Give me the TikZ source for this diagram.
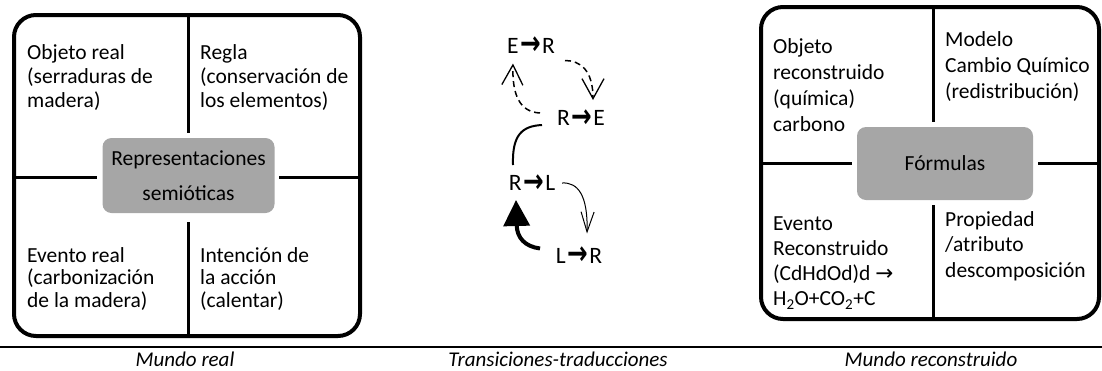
\documentclass[tikz,border=0pt]{standalone}
\usepackage{fontspec}
\setmainfont{Carlito}
\newfontfamily\arrowfont{DejaVu Sans}
\usetikzlibrary{arrows.meta,calc}
\definecolor{boxgray}{RGB}{166,166,166}
\newcommand\celltxt[2]{{\fontsize{21.5}{#1}\selectfont\begin{tabular}[t]{@{}l@{}}#2\end{tabular}}}
\newcommand\tarrow{\raisebox{-1.5pt}{\scalebox{1.05}[1.4]{\arrowfont\bfseries →}}}
\begin{document}
\begin{tikzpicture}[x=1pt,y=-1pt,
  boxframe/.style={line width=4pt, rounded corners=22pt},
  divider/.style={line width=3pt},
  hubbox/.style={fill=boxgray, rounded corners=9pt, inner sep=0pt, font=\fontsize{21.5}{35}\selectfont},
  cellnode/.style={anchor=base west, inner sep=0pt},
  transnode/.style={inner sep=0pt, text height=15pt, text depth=0pt, font=\fontsize{23.5}{28}\selectfont},
  capnode/.style={anchor=base, inner sep=0pt, font=\fontsize{21}{25}\selectfont\itshape},
  dlink/.style={line width=1.5pt, dash pattern=on 6pt off 4pt},
]
\useasboundingbox (0,0) rectangle (1102,370);

% ---------- left box: Mundo real ----------
\draw[boxframe] (14,15) rectangle (360,336);
\draw[divider] (188,15) -- (188,133);
\draw[divider] (188,222) -- (188,336);
\draw[divider] (14,177) -- (97,177);
\draw[divider] (279,177) -- (360,177);
\node[hubbox, minimum width=172pt, minimum height=75pt] (lhub) at (188.5,175.5)
  {\begin{tabular}{@{}c@{}}Representaciones\\semióticas\end{tabular}};
\node[cellnode] (lobj) at (27,59) {\celltxt{24}{Objeto real\\(serraduras de\\madera)}};
\node[cellnode] (lreg) at (200,59) {\celltxt{24}{Regla\\(conservación de\\los elementos)}};
\node[cellnode] (lev) at (27,262) {\celltxt{22.5}{Evento real\\(carbonización\\de la madera)}};
\node[cellnode] (lint) at (200,262) {\celltxt{22.5}{Intención de\\la acción\\(calentar)}};

% ---------- right box: Mundo reconstruido ----------
\draw[boxframe] (761,7) rectangle (1099,319);
\draw[divider] (933,7) -- (933,122);
\draw[divider] (933,205) -- (933,319);
\draw[divider] (761,163) -- (852,163);
\draw[divider] (1038,163) -- (1099,163);
\node[hubbox, minimum width=176pt, minimum height=73pt, text height=13.8pt, text depth=0pt] (rhub) at (945,163.5) {Fórmulas};
\node[cellnode] (robj) at (773,53.3) {\celltxt{26}{Objeto\\reconstruido\\(química)\\carbono}};
\node[cellnode] (rmod) at (945,46.7) {\celltxt{26}{Modelo\\Cambio Químico\\(redistribución)}};
\node[cellnode] (rev) at (773,230) {\celltxt{25.3}{Evento\\Reconstruido\\(CdHdOd)d {\arrowfont →}\\H\textsubscript{2}O+CO\textsubscript{2}+C}};
\node[cellnode] (rprop) at (945,226) {\celltxt{25.6}{Propiedad\\/atributo\\descomposición}};

% ---------- middle: transitions ----------
\node[transnode] (er) at (531,45.5) {E\kern1.5pt\tarrow\kern1.5pt R};
\node[transnode] (re) at (581,118) {R\kern1.5pt\tarrow\kern1.5pt E};
\node[transnode] (rl) at (532,183) {R\kern1.5pt\tarrow\kern1.5pt L};
\node[transnode] (lr) at (579,255.5) {L\kern1.5pt\tarrow\kern1.5pt R};

\draw[dlink, -{Straight Barb[length=20pt,width=22pt,line width=1.3pt]}]
  ($(er)+(34,15)$) .. controls +(15,0) and +(0,-30) .. ($(re)+(12,-18)$);
\draw[dlink, -{Straight Barb[length=20pt,width=21pt,line width=1.3pt]}]
  ($(re)+(-41,-5)$) .. controls +(-20,-1) and +(-1,32) .. ($(er)+(-18,18)$);
\draw[line width=2pt]
  ($(re)+(-39,7)$) .. controls +(-20,1) and +(-1,-30) .. ($(rl)+(-19,-18)$);
\draw[line width=1pt, -{Straight Barb[length=20pt,width=13pt]}]
  ($(rl)+(30,0)$) .. controls +(16,-1) and +(1,-38) .. ($(lr)+(8,-22)$);
\draw[line width=4pt, -{Triangle[length=26pt,width=26pt]}]
  ($(lr)+(-39,-7)$) .. controls +(-15,-2) and +(1,38) .. ($(rl)+(-16,17)$);

% ---------- bottom rule and captions ----------
\coordinate (ruleL) at (0,347);
\coordinate (ruleR) at (1102,347);
\draw[line width=2.5pt] (ruleL) -- (ruleR);
\node[capnode] (cap1) at (185,366) {Mundo real};
\node[capnode] (cap2) at (558,366) {Transiciones-traducciones};
\node[capnode] (cap3) at (931,366) {Mundo reconstruido};
\end{tikzpicture}
\end{document}
